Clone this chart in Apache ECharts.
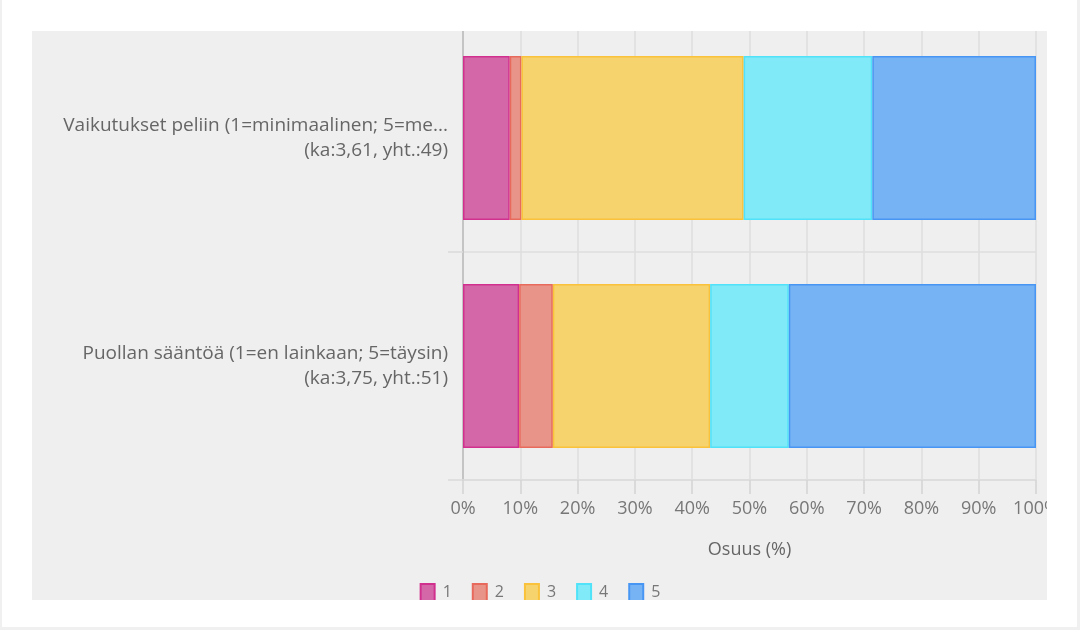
<!DOCTYPE html>
<html>
<head>
<meta charset="utf-8">
<script src="https://cdn.jsdelivr.net/npm/echarts@6/dist/echarts.min.js"></script>
<style>
  html, body { margin: 0; padding: 0; background: #ffffff; }
  #page { position: relative; width: 1080px; height: 630px; overflow: hidden; background: #fff; }
  #panel { position: absolute; left: 32px; top: 31px; width: 1015px; height: 569px; overflow: hidden; background: #efefef; }
  #chart { position: absolute; left: -32px; top: -31px; width: 1080px; height: 630px; }
  .edge { position: absolute; background: #f0f0f0; }
</style>
</head>
<body>
<div id="page">
  <div id="panel"><div id="chart"></div></div>
  <div class="edge" style="left:0;top:0;width:2px;height:630px;"></div>
  <div class="edge" style="right:0;top:0;width:3px;height:630px;"></div>
  <div class="edge" style="left:0;bottom:0;width:1080px;height:3px;"></div>
</div>
<script>
// Categories (top to bottom)
const categories = [
  'Vaikutukset peliin (1=minimaalinen; 5=me...\n(ka:3,61, yht.:49)',
  'Puollan sääntöä (1=en lainkaan; 5=täysin)\n(ka:3,75, yht.:51)'
];
// Share (%) of answers per option 1..5
const seriesNames = ['1', '2', '3', '4', '5'];
const share1 = [8.16, 9.80];
const share2 = [2.04, 5.88];
const share3 = [38.78, 27.45];
const share4 = [22.45, 13.73];
const share5 = [28.57, 43.14];
const xTickLabels = ['0%', '10%', '20%', '30%', '40%', '50%', '60%', '70%', '80%', '90%', '100%'];

const values = [share1, share2, share3, share4, share5];
const fills = ['#d467a7', '#e89488', '#f6d36d', '#80eaf8', '#76b3f5'];
const borders = ['#d2308f', '#e86a5c', '#f9c23a', '#50e2f8', '#4896f3'];

const chart = echarts.init(document.getElementById('chart'), null, { renderer: 'canvas' });
const FONT = '"Open Sans", "Noto Sans", sans-serif';

chart.setOption({
  backgroundColor: 'transparent',
  animation: false,
  textStyle: { fontFamily: FONT },
  grid: { left: 463, right: 44, top: 24, bottom: 150, containLabel: false },
  legend: {
    data: seriesNames,
    left: 'center',
    top: 583,
    padding: 0,
    itemWidth: 14,
    itemHeight: 17,
    itemGap: 20,
    icon: 'rect',
    textStyle: { color: '#777', fontSize: 16, fontFamily: FONT, padding: [0, 0, 0, 3] }
  },
  xAxis: {
    type: 'value',
    min: 0,
    max: 100,
    interval: 10,
    name: 'Osuus (%)',
    nameLocation: 'middle',
    nameGap: 61,
    nameTextStyle: { color: '#666', fontSize: 18, fontFamily: FONT },
    axisLine: { show: true, lineStyle: { color: '#dcdcdc', width: 1.5 } },
    axisTick: { show: true, length: 14, lineStyle: { color: '#d4d4d4', width: 1.5 } },
    axisLabel: {
      color: '#777', fontSize: 18, margin: 20, fontFamily: FONT,
      formatter: function (v) { return xTickLabels[Math.round(v / 10)]; }
    },
    splitLine: { show: true, lineStyle: { color: '#dedede', width: 1.5 } }
  },
  yAxis: {
    type: 'category',
    data: categories,
    inverse: true,
    axisLine: { show: true, lineStyle: { color: '#c4c4c4', width: 2 } },
    axisTick: { show: true, length: 15, lineStyle: { color: '#dadada', width: 1.5 } },
    splitLine: { show: true, lineStyle: { color: '#dedede', width: 1.5 } },
    axisLabel: { color: '#666', fontSize: 19, lineHeight: 25, margin: 15, align: 'right', fontFamily: FONT }
  },
  series: seriesNames.map(function (name, i) {
    return {
      name: name,
      type: 'bar',
      stack: 'total',
      barWidth: '72%',
      data: values[i],
      itemStyle: { color: fills[i], borderColor: borders[i], borderWidth: 1.5 }
    };
  })
});
</script>
</body>
</html>
